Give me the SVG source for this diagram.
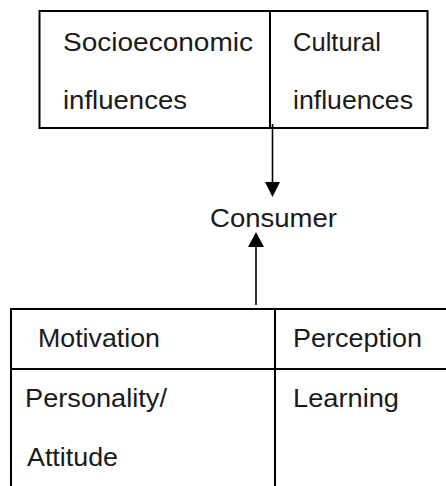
<svg xmlns="http://www.w3.org/2000/svg" width="446" height="486" viewBox="0 0 446 486">
<style>
.box{fill:none;stroke:#000;stroke-width:2}
.ln{stroke:#000;stroke-width:2}
.t{font-family:"Liberation Sans",Arial,sans-serif;font-size:25px;fill:#1a1a1a}
.ar{stroke:#000;stroke-width:1.6;fill:none}
.hd{fill:#000}
</style>
<rect width="446" height="486" fill="#fff"/>
<g id="top-box">
<rect class="box" x="39.5" y="11" width="388" height="117"/>
<line class="ln" x1="270" y1="11" x2="270" y2="128"/>
<text class="t" x="63" y="51" textLength="190" lengthAdjust="spacingAndGlyphs">Socioeconomic</text>
<text class="t" x="63" y="109" textLength="124" lengthAdjust="spacingAndGlyphs">influences</text>
<text class="t" x="293" y="51" textLength="88" lengthAdjust="spacingAndGlyphs">Cultural</text>
<text class="t" x="293" y="109" textLength="120" lengthAdjust="spacingAndGlyphs">influences</text>
</g>
<g id="consumer">
<text class="t" x="210" y="227" textLength="127" lengthAdjust="spacingAndGlyphs">Consumer</text>
</g>
<g id="bottom-box">
<path class="box" d="M447 309 H11 V487"/>
<line class="ln" x1="11" y1="369" x2="447" y2="369"/>
<line class="ln" x1="275" y1="309" x2="275" y2="487"/>
<text class="t" x="38" y="347" textLength="122" lengthAdjust="spacingAndGlyphs">Motivation</text>
<text class="t" x="293" y="347" textLength="129" lengthAdjust="spacingAndGlyphs">Perception</text>
<text class="t" x="25" y="407" textLength="142" lengthAdjust="spacingAndGlyphs">Personality/</text>
<text class="t" x="293" y="407" textLength="106" lengthAdjust="spacingAndGlyphs">Learning</text>
<text class="t" x="27" y="466" textLength="91" lengthAdjust="spacingAndGlyphs">Attitude</text>
</g>
<g id="connectors">
<line class="ar" x1="272.5" y1="124" x2="272.5" y2="184"/>
<polygon class="hd" points="265,182 280,182 272.5,197"/>
<line class="ar" x1="256" y1="305" x2="256" y2="245"/>
<polygon class="hd" points="248,247 264,247 256,232"/>
</g>
</svg>
